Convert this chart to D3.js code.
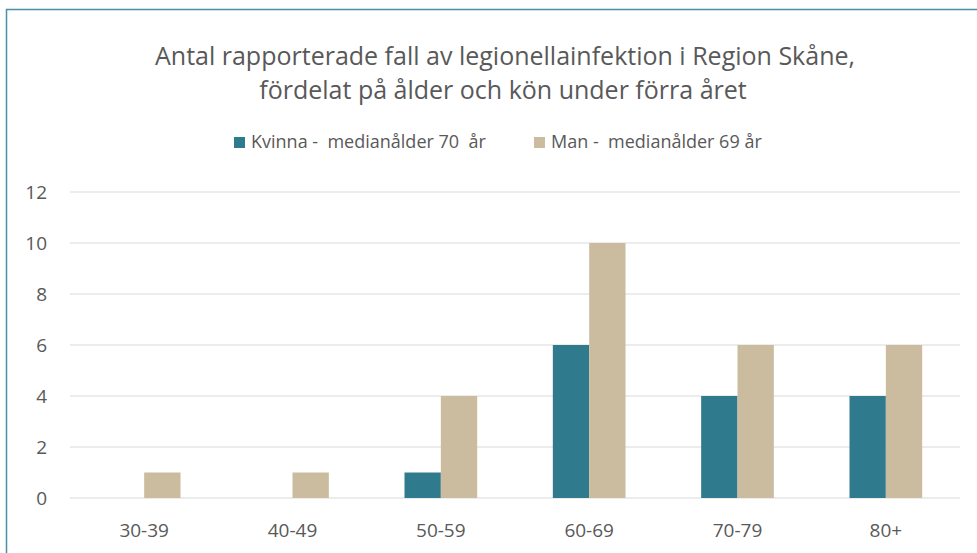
<!DOCTYPE html>
<html>
<head>
<meta charset="utf-8">
<script src="https://cdn.jsdelivr.net/npm/d3@7"></script>
<style>
  body { margin: 0; background: #fff; }
  svg { font-family: "Open Sans", sans-serif; }
</style>
</head>
<body>
<svg width="977" height="553"></svg>
<script>
var categories = ["30-39", "40-49", "50-59", "60-69", "70-79", "80+"]
var series = ["Kvinna -  medianålder 70  år", "Man -  medianålder 69 år"]
var kvinna = [0, 0, 1, 6, 4, 4]
var man = [1, 1, 4, 10, 6, 6]
var yTicks = [0, 2, 4, 6, 8, 10, 12]
var colors = ["#2f7a8d", "#cbbca0"]

var
  svg = d3.select("svg"),
  margin = { top: 192, right: 17, bottom: 55, left: 70 },
  width = svg.attr("width") - margin.left - margin.right,
  height = svg.attr("height") - margin.top - margin.bottom

// chart frame
svg.append("rect")
  .attr("x", 6.5).attr("y", 9.5)
  .attr("width", 980).attr("height", 560)
  .attr("fill", "none").attr("stroke", "#4a8fa3").attr("stroke-width", 1.5)

var g = svg.append("g").attr("transform", `translate(${margin.left},${margin.top})`)

var x = d3.scaleBand().domain(categories).range([0, 890]).paddingInner(0.51).paddingOuter(0.255)
var x1 = d3.scaleBand().domain([0, 1]).range([0, x.bandwidth()])
var y = d3.scaleLinear().domain([0, 12]).range([height, 0])

// gridlines
g.selectAll(".grid").data(yTicks).join("line")
  .attr("x1", 0).attr("x2", 890)
  .attr("y1", d => y(d)).attr("y2", d => y(d))
  .attr("stroke", "#d9d9d9").attr("stroke-width", 1.2)

// y labels
g.selectAll(".ylab").data(yTicks).join("text")
  .attr("x", -23).attr("y", d => y(d))
  .attr("text-anchor", "end").attr("dominant-baseline", "central")
  .attr("fill", "#595959").style("font-size", "19px")
  .text(d => d)

// x labels
g.selectAll(".xlab").data(categories).join("text")
  .attr("x", d => x(d) + x.bandwidth() / 2).attr("y", height + 39)
  .attr("text-anchor", "middle")
  .attr("fill", "#595959").style("font-size", "19px")
  .text(d => d)

var data = [kvinna, man]
data.forEach((vals, s) => {
  g.selectAll(".bar" + s).data(vals).join("rect")
    .attr("x", (d, i) => x(categories[i]) + x1(s))
    .attr("width", x1.bandwidth())
    .attr("y", d => y(d))
    .attr("height", d => y(0) - y(d))
    .attr("fill", colors[s])
})

// title
svg.append("text")
  .attr("x", 505).attr("y", 65)
  .attr("text-anchor", "middle").attr("fill", "#595959")
  .style("font-size", "25px")
  .text("Antal rapporterade fall av legionellainfektion i Region Skåne,")
svg.append("text")
  .attr("x", 503).attr("y", 99)
  .attr("text-anchor", "middle").attr("fill", "#595959")
  .style("font-size", "25px")
  .text("fördelat på ålder och kön under förra året")

// legend
var legendX = [234, 534]
series.forEach((name, s) => {
  svg.append("rect")
    .attr("x", legendX[s]).attr("y", 137)
    .attr("width", 11).attr("height", 11)
    .attr("fill", colors[s])
  svg.append("text")
    .attr("x", legendX[s] + 17).attr("y", 148)
    .attr("fill", "#595959")
    .style("font-size", "18px").style("white-space", "pre")
    .attr("xml:space", "preserve")
    .text(name)
})
</script>
</body>
</html>
